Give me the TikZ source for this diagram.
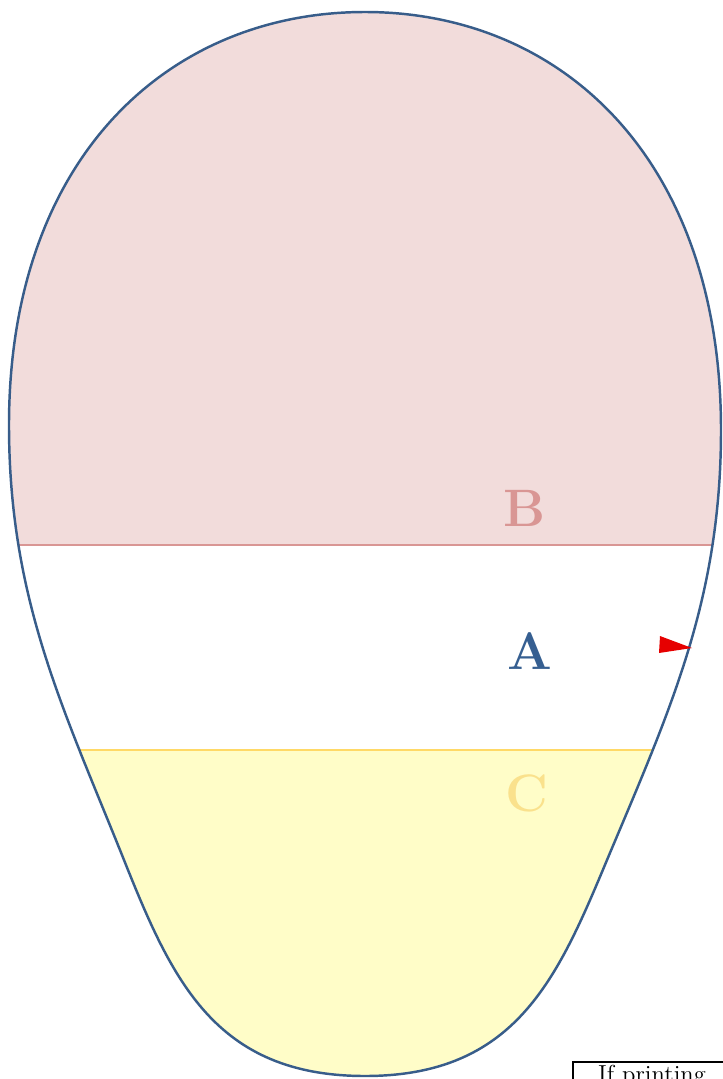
\documentclass[tikz,border=0pt]{standalone}
\usepackage{tikz}
\definecolor{eggline}{RGB}{56,93,138}
\definecolor{pinkfill}{RGB}{242,220,219}
\definecolor{pinkline}{RGB}{217,150,148}
\definecolor{yellowfill}{RGB}{255,253,200}
\definecolor{yellowline}{RGB}{255,217,102}
\definecolor{labelA}{RGB}{54,95,145}
\definecolor{labelC}{RGB}{250,225,140}
\definecolor{flagred}{RGB}{230,0,0}
\tikzset{zone/.style={font=\fontsize{30}{36}\selectfont\bfseries}}

\begin{document}
\begin{tikzpicture}[x=0.02cm,y=-0.02cm]
\useasboundingbox (0,0) rectangle (723,1079);
\coordinate (T) at (365,12); \coordinate (R) at (721,430); \coordinate (RL) at (607,860);
\coordinate (Bt) at (365,1076); \coordinate (LL) at (124,860); \coordinate (L) at (9,425);
\def\eggpath{(T) .. controls (561,12) and (721,158) .. (R) .. controls (721,600) and (670,710) .. (RL) .. controls (557,980) and (515,1076) .. (Bt) .. controls (215,1076) and (172,980) .. (LL) .. controls (64,710) and (9,600) .. (L) .. controls (9,157) and (169,12) .. cycle}
\coordinate (BL) at (0,545); \coordinate (BR) at (723,545);
\coordinate (CL) at (0,750); \coordinate (CR) at (723,750);
\begin{scope}
\clip \eggpath;
\fill[pinkfill] (0,0) rectangle (BR);
\fill[yellowfill] (CL) rectangle (723,1079);
\draw[pinkline,line width=1pt] (BL)--(BR);
\draw[yellowline,line width=1.5pt] (CL)--(CR);
\end{scope}
\draw[eggline,line width=1.4pt] \eggpath;
\foreach \p/\col/\x/\y in {B/pinkline/525/508,A/labelA/530/651,C/labelC/527/793}{\node[zone,text=\col] (\p) at (\x,\y) {\p};}
\fill[flagred] (660,636)--(692,648)--(659,653)--cycle;
\draw[black,line width=0.8pt] (573,1062) rectangle (760,1120);
\node[anchor=north,font=\fontsize{14}{16}\selectfont] (print) at (652,1059) {If printing};
\end{tikzpicture}
\end{document}
